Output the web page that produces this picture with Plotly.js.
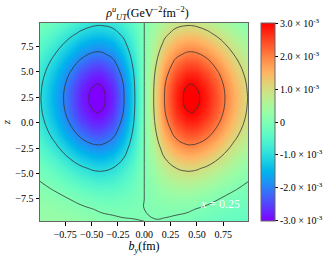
<!DOCTYPE html>
<html>
<head>
<meta charset="utf-8">
<script src="https://cdn.plot.ly/plotly-3.0.1.min.js"></script>
<style>html,body{margin:0;padding:0;background:#fff;}#chart{width:335px;height:259px;}</style>
</head>
<body>
<div id="chart"></div>
<script>
// transverse position b_y (fm)
var by_fm = [-0.99,-0.85,-0.7,-0.6,-0.5,-0.45,-0.4,-0.3,-0.2,-0.1,0,0.1,0.2,0.3,0.4,0.45,0.5,0.6,0.7,0.85,0.99];
// longitudinal coordinate z
var z_vals = [-9.7,-8.5,-7.5,-6.5,-5.5,-4.5,-3.5,-2.5,-1.5,-0.5,0.3,1.0,1.7,2.4,3.1,3.8,4.8,5.8,6.8,7.8,8.8,9.8];
// rho_UT^u in units of 1e-3 GeV^-2 fm^-2, one row per z value
var rho_ut = [
 [0.31,0.30,0.26,0.21,0.16,0.13,0.11,0.07,0.03,0.01,0,-0.01,-0.03,-0.07,-0.11,-0.13,-0.16,-0.21,-0.26,-0.30,-0.31],
 [0.25,0.21,0.13,0.07,0.01,-0.02,-0.05,-0.07,-0.07,-0.04,0,0.04,0.07,0.07,0.05,0.02,-0.01,-0.07,-0.13,-0.21,-0.25],
 [0.17,0.10,-0.01,-0.10,-0.18,-0.21,-0.23,-0.23,-0.19,-0.11,0,0.11,0.19,0.23,0.23,0.21,0.18,0.10,0.01,-0.10,-0.17],
 [0.08,-0.03,-0.21,-0.32,-0.42,-0.45,-0.46,-0.44,-0.35,-0.19,0,0.19,0.35,0.44,0.46,0.45,0.42,0.32,0.21,0.03,-0.08],
 [-0.03,-0.21,-0.44,-0.60,-0.71,-0.74,-0.75,-0.69,-0.54,-0.29,0,0.29,0.54,0.69,0.75,0.74,0.71,0.60,0.44,0.21,0.03],
 [-0.17,-0.41,-0.72,-0.91,-1.05,-1.09,-1.09,-0.99,-0.76,-0.41,0,0.41,0.76,0.99,1.09,1.09,1.05,0.91,0.72,0.41,0.17],
 [-0.32,-0.63,-1.03,-1.27,-1.43,-1.47,-1.47,-1.33,-1.01,-0.55,0,0.55,1.01,1.33,1.47,1.47,1.43,1.27,1.03,0.63,0.32],
 [-0.48,-0.86,-1.35,-1.64,-1.83,-1.87,-1.86,-1.68,-1.27,-0.69,0,0.69,1.27,1.68,1.86,1.87,1.83,1.64,1.35,0.86,0.48],
 [-0.63,-1.09,-1.66,-2.00,-2.22,-2.26,-2.24,-2.01,-1.53,-0.83,0,0.83,1.53,2.01,2.24,2.26,2.22,2.00,1.66,1.09,0.63],
 [-0.76,-1.29,-1.94,-2.32,-2.56,-2.61,-2.58,-2.32,-1.75,-0.95,0,0.95,1.75,2.32,2.58,2.61,2.56,2.32,1.94,1.29,0.76],
 [-0.85,-1.42,-2.12,-2.53,-2.79,-2.83,-2.80,-2.51,-1.90,-1.03,0,1.03,1.90,2.51,2.80,2.83,2.79,2.53,2.12,1.42,0.85],
 [-0.91,-1.50,-2.24,-2.66,-2.93,-3.01,-2.95,-2.64,-2.00,-1.08,0,1.08,2.00,2.64,2.95,3.01,2.93,2.66,2.24,1.50,0.91],
 [-0.94,-1.56,-2.31,-2.75,-3.04,-3.09,-3.08,-2.72,-2.06,-1.11,0,1.11,2.06,2.72,3.08,3.09,3.04,2.75,2.31,1.56,0.94],
 [-0.96,-1.58,-2.33,-2.78,-3.08,-3.12,-3.10,-2.75,-2.08,-1.12,0,1.12,2.08,2.75,3.10,3.12,3.08,2.78,2.33,1.58,0.96],
 [-0.94,-1.56,-2.31,-2.75,-3.04,-3.09,-3.08,-2.72,-2.06,-1.11,0,1.11,2.06,2.72,3.08,3.09,3.04,2.75,2.31,1.56,0.94],
 [-0.91,-1.50,-2.24,-2.66,-2.93,-3.01,-2.95,-2.64,-2.00,-1.08,0,1.08,2.00,2.64,2.95,3.01,2.93,2.66,2.24,1.50,0.91],
 [-0.82,-1.37,-2.06,-2.46,-2.71,-2.75,-2.73,-2.44,-1.85,-1.00,0,1.00,1.85,2.44,2.73,2.75,2.71,2.46,2.06,1.37,0.82],
 [-0.70,-1.19,-1.80,-2.17,-2.40,-2.44,-2.42,-2.17,-1.65,-0.89,0,0.89,1.65,2.17,2.42,2.44,2.40,2.17,1.80,1.19,0.70],
 [-0.55,-0.98,-1.51,-1.82,-2.03,-2.07,-2.05,-1.85,-1.40,-0.76,0,0.76,1.40,1.85,2.05,2.07,2.03,1.82,1.51,0.98,0.55],
 [-0.40,-0.74,-1.19,-1.45,-1.63,-1.67,-1.66,-1.50,-1.14,-0.62,0,0.62,1.14,1.50,1.66,1.67,1.63,1.45,1.19,0.74,0.40],
 [-0.24,-0.51,-0.87,-1.09,-1.24,-1.27,-1.27,-1.16,-0.89,-0.48,0,0.48,0.89,1.16,1.27,1.27,1.24,1.09,0.87,0.51,0.24],
 [-0.10,-0.30,-0.58,-0.75,-0.87,-0.91,-0.91,-0.84,-0.65,-0.35,0,0.35,0.65,0.84,0.91,0.91,0.87,0.75,0.58,0.30,0.10]
];
// colorbar ticks
var cbar_vals = [-3,-2,-1,0,1,2,3];
var cbar_text = ['-3.0 × 10<sup>-3</sup>','-2.0 × 10<sup>-3</sup>','-1.0 × 10<sup>-3</sup>','0',
                 '1.0 × 10<sup>-3</sup>','2.0 × 10<sup>-3</sup>','3.0 × 10<sup>-3</sup>'];
var contour_levels = {start:-3, end:3, size:1};

var FONT = 'Liberation Serif, Times New Roman, serif';
var rainbow = [
 [0,'rgb(128,0,255)'],[0.05,'rgb(102,40,254)'],[0.1,'rgb(77,79,252)'],[0.15,'rgb(51,116,248)'],
 [0.2,'rgb(26,150,243)'],[0.25,'rgb(0,180,236)'],[0.3,'rgb(26,206,227)'],[0.35,'rgb(51,227,218)'],
 [0.4,'rgb(77,243,206)'],[0.45,'rgb(102,252,194)'],[0.5,'rgb(128,255,180)'],[0.55,'rgb(153,252,166)'],
 [0.6,'rgb(179,243,150)'],[0.65,'rgb(204,227,133)'],[0.7,'rgb(230,206,116)'],[0.75,'rgb(255,180,98)'],
 [0.8,'rgb(255,150,79)'],[0.85,'rgb(255,116,59)'],[0.9,'rgb(255,79,40)'],[0.95,'rgb(255,40,20)'],[1,'rgb(255,0,0)']
];

var heat = {
  type:'heatmap', x:by_fm, y:z_vals, z:rho_ut, zsmooth:'best',
  colorscale:rainbow, zmin:-3.02, zmax:3.02, hoverinfo:'skip',
  colorbar:{x:1.061, xanchor:'left', xpad:0, y:0.5, yanchor:'middle', ypad:0, len:1, lenmode:'fraction',
    thickness:14, outlinewidth:1, outlinecolor:'#666', tickvals:cbar_vals, ticktext:cbar_text,
    ticks:'outside', ticklen:3, tickcolor:'#000', tickfont:{family:FONT, size:10, color:'#000'}}
};
var cont = {
  type:'contour', x:by_fm, y:z_vals, z:rho_ut, showscale:false, hoverinfo:'skip',
  contours:{start:contour_levels.start, end:contour_levels.end, size:contour_levels.size, coloring:'none'},
  line:{color:'#333', width:0.8, smoothing:1.3}
};
var layout = {
  width:335, height:259, margin:{l:40, r:81, t:23, b:38},
  paper_bgcolor:'#fff', plot_bgcolor:'#fff', showlegend:false,
  font:{family:FONT, size:10, color:'#000'},
  title:{text:'<i>ρ</i><sup><i>u</i></sup><sub><i>UT</i></sub>(GeV<sup>−2</sup>fm<sup>−2</sup>)',
    font:{family:FONT, size:12, color:'#000'}, x:0.44, xanchor:'center', y:0.95, yanchor:'middle'},
  xaxis:{range:[-0.99,0.985], tick0:0, dtick:0.25, tickformat:'.2f', ticks:'outside', ticklen:3.5,
    tickcolor:'#000', showline:true, linecolor:'#666', linewidth:1, mirror:true, showgrid:false, zeroline:false,
    tickfont:{family:FONT, size:10}, title:{text:'<i>b</i><sub><i>y</i></sub>(fm)', font:{family:FONT, size:12}, standoff:3}},
  yaxis:{range:[-9.67,9.81], tick0:0, dtick:2.5, tickformat:'.1f', ticks:'outside', ticklen:3.5,
    tickcolor:'#000', showline:true, linecolor:'#666', linewidth:1, mirror:true, showgrid:false, zeroline:false,
    tickfont:{family:FONT, size:10}, title:{text:'<i>z</i>', font:{family:FONT, size:11}, standoff:8}},
  annotations:[{xref:'x', yref:'y', x:0.72, y:-8.0, text:'<i>x</i> = 0.25', showarrow:false,
    font:{family:FONT, size:12, color:'#fff'}}]
};
Plotly.newPlot('chart', [heat, cont], layout, {displayModeBar:false, staticPlot:true});
</script>
</body>
</html>
